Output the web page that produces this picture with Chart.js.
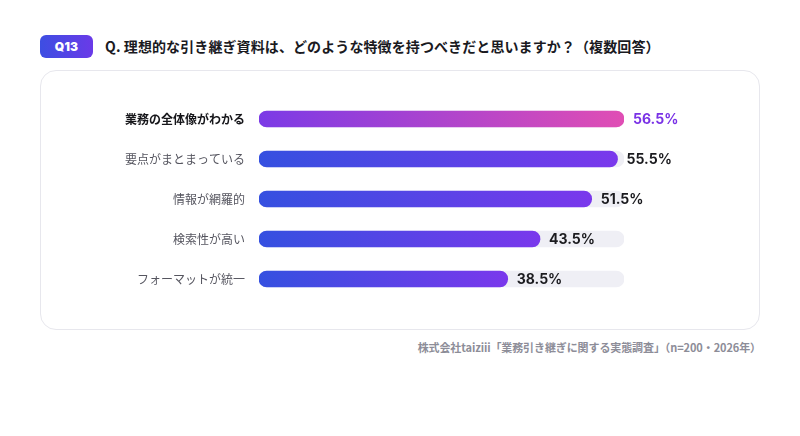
<!DOCTYPE html>
<html lang="ja">
<head>
<meta charset="utf-8">
<script src="https://cdn.jsdelivr.net/npm/chart.js@4/dist/chart.umd.min.js"></script>
<style>
  html, body { margin: 0; padding: 0; background: #fff; }
  body { width: 800px; height: 436px; position: relative; overflow: hidden;
         font-family: "Noto Sans CJK JP", "Noto Sans", sans-serif; }
  .badge { position: absolute; left: 40px; top: 35px; width: 53px; height: 23px;
           border-radius: 6px; background: linear-gradient(90deg, #3d4ee2, #6a3ae8);
           color: #fff; font: 900 12px "Inter", "Noto Sans", sans-serif;
           display: flex; align-items: center; justify-content: center; letter-spacing: 0.2px; }
  .title { position: absolute; left: 105px; top: 36px; font-size: 14px; font-weight: 700;
           color: #1a1a1f; white-space: nowrap; line-height: 20px; letter-spacing: 0.1px; }
  .card { position: absolute; left: 40px; top: 70px; width: 720px; height: 260px;
          box-sizing: border-box; border: 1px solid #e7e7ed; border-radius: 16px; }
  #chart { position: absolute; left: 40px; top: 70px; }
  .source { position: absolute; right: 39px; top: 339px; font-size: 11px; font-weight: 600;
            color: #8d8d98; white-space: nowrap; letter-spacing: -0.1px; }
</style>
</head>
<body>
<div class="badge">Q13</div>
<div class="title">Q. 理想的な引き継ぎ資料は、どのような特徴を持つべきだと思いますか？（複数回答）</div>
<div class="card"></div>
<canvas id="chart" width="720" height="260"></canvas>
<div class="source">株式会社taiziii「業務引き継ぎに関する実態調査」（n=200・2026年）</div>
<script>
const categories = ["業務の全体像がわかる", "要点がまとまっている", "情報が網羅的", "検索性が高い", "フォーマットが統一"];
const values = [56.5, 55.5, 51.5, 43.5, 38.5];
const axisMax = 56.5;
const trackValues = categories.map(() => axisMax);

function barGradient(context) {
  const chart = context.chart;
  const x = chart.scales.x;
  if (!chart.chartArea || context.parsed === undefined) return "#4a4ae6";
  const x0 = x.getPixelForValue(0);
  const x1 = x.getPixelForValue(values[context.dataIndex]);
  const g = chart.ctx.createLinearGradient(x0, 0, x1, 0);
  if (context.dataIndex === 0) {
    g.addColorStop(0, "#7b3ae6");
    g.addColorStop(1, "#e04eb4");
  } else {
    g.addColorStop(0, "#3550e0");
    g.addColorStop(1, "#7a38ec");
  }
  return g;
}

const valueLabels = {
  id: "valueLabels",
  afterDatasetsDraw(chart) {
    const ctx = chart.ctx;
    const meta = chart.getDatasetMeta(0);
    ctx.save();
    ctx.textBaseline = "middle";
    ctx.textAlign = "left";
    meta.data.forEach((bar, i) => {
      ctx.font = "700 14px Inter, 'Noto Sans', sans-serif";
      ctx.fillStyle = i === 0 ? "#7a32e6" : "#1b1b1f";
      ctx.fillText(values[i].toFixed(1) + "%", bar.x + 9, bar.y + 1);
    });
    ctx.restore();
  }
};

new Chart(document.getElementById("chart").getContext("2d"), {
  type: "bar",
  data: {
    labels: categories,
    datasets: [
      {
        data: values,
        backgroundColor: barGradient,
        barThickness: 16,
        borderRadius: 8,
        borderSkipped: false,
        grouped: false,
      },
      {
        data: trackValues,
        backgroundColor: "#efeff5",
        barThickness: 16,
        borderRadius: 8,
        borderSkipped: false,
        grouped: false,
      },
    ],
  },
  options: {
    indexAxis: "y",
    responsive: false,
    animation: false,
    layout: { padding: { top: 29, bottom: 31, right: 136, left: 0 } },
    plugins: { legend: { display: false }, tooltip: { enabled: false } },
    scales: {
      x: { display: false, min: 0, max: axisMax },
      y: {
        grid: { display: false, drawTicks: false },
        border: { display: false },
        afterFit: (scale) => { scale.width = 219; },
        ticks: {
          padding: 14,
          color: (c) => (c.index === 0 ? "#16161a" : "#55555f"),
          font: (c) => ({
            family: "'Noto Sans CJK JP', 'Noto Sans', sans-serif",
            size: 12,
            weight: c.index === 0 ? "700" : "400",
          }),
        },
      },
    },
  },
  plugins: [valueLabels],
});
</script>
</body>
</html>
